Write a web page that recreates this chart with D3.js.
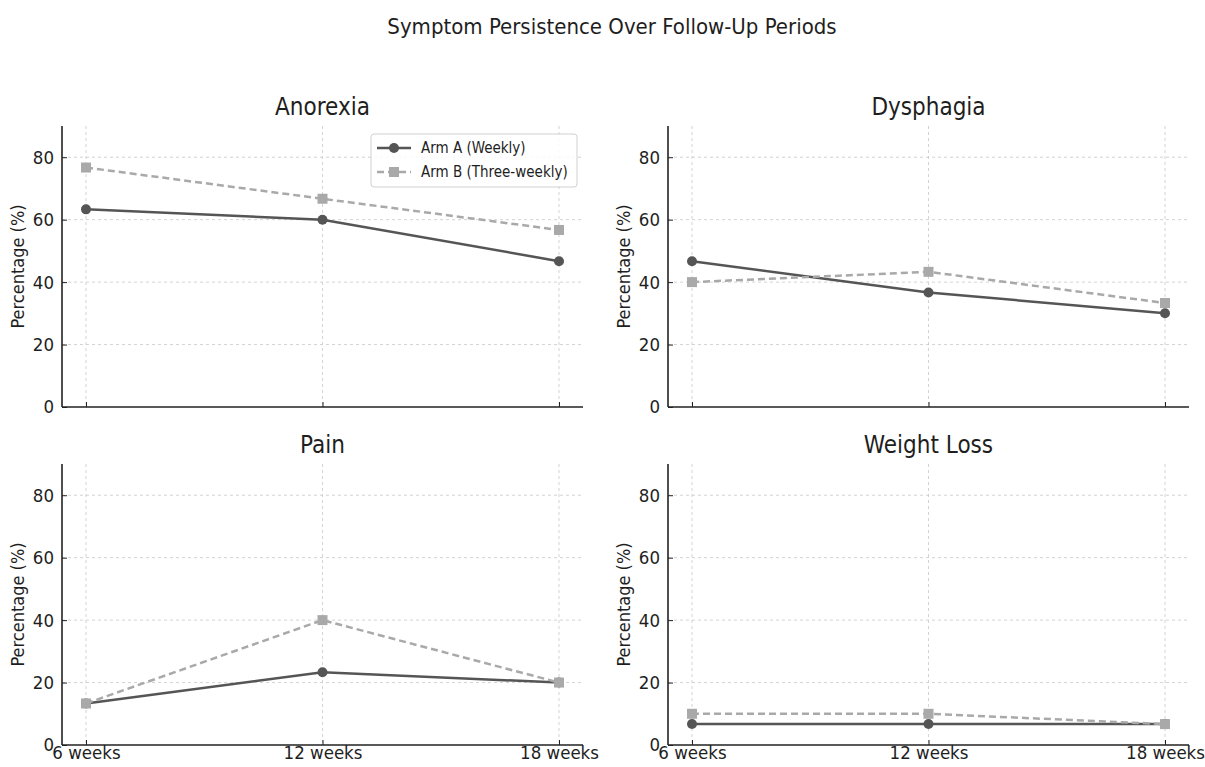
<!DOCTYPE html>
<html>
<head>
<script src="https://d3js.org/d3.v7.min.js"></script>
<style>
  body { margin: 0; background: #fff; }
  text { font-family: "DejaVu Sans Condensed", "DejaVu Sans", sans-serif; fill: #1e1e1e; }
  .grid line { stroke: #c8c8c8; stroke-dasharray: 3,3; stroke-width: 0.8; }
</style>
</head>
<body>
<svg width="1205" height="767"></svg>
<script>
const periods = ["6 weeks", "12 weeks", "18 weeks"];
const symptoms = ["Anorexia", "Dysphagia", "Pain", "Weight Loss"];
const armA = [[63.3, 60.0, 46.7], [46.7, 36.7, 30.0], [13.3, 23.3, 20.0], [6.7, 6.7, 6.7]];
const armB = [[76.7, 66.7, 56.7], [40.0, 43.3, 33.3], [13.3, 40.0, 20.0], [10.0, 10.0, 6.7]];
const yTicks = [0, 20, 40, 60, 80];

const svg = d3.select("svg");
const W = 521, H = 281;
const lefts = [62, 668], tops = [126, 464];

svg.append("text")
  .attr("x", 612).attr("y", 34)
  .attr("text-anchor", "middle")
  .style("font-size", "22px")
  .text("Symptom Persistence Over Follow-Up Periods");

const x = d3.scalePoint().domain(periods).range([24, W - 24]);
const y = d3.scaleLinear().domain([0, 90]).range([H, 0]);

const series = [
  { name: "Arm A (Weekly)", data: armA, color: "#555555", dash: null, shape: "circle" },
  { name: "Arm B (Three-weekly)", data: armB, color: "#a9a9a9", dash: "7,4", shape: "square" }
];

symptoms.forEach((s, i) => {
  const g = svg.append("g")
    .attr("transform", `translate(${lefts[i % 2]},${tops[Math.floor(i / 2)]})`);

  // grid
  const grid = g.append("g").attr("class", "grid");
  grid.selectAll(".gy").data(yTicks.slice(1)).enter().append("line")
    .attr("x1", 0).attr("x2", W).attr("y1", d => y(d)).attr("y2", d => y(d));
  grid.selectAll(".gx").data(periods).enter().append("line")
    .attr("x1", d => x(d)).attr("x2", d => x(d)).attr("y1", 0).attr("y2", H);

  g.append("text")
    .attr("x", W / 2).attr("y", -11)
    .attr("text-anchor", "middle")
    .style("font-size", "24px")
    .text(s);

  g.append("text")
    .attr("transform", `translate(-38,${H / 2}) rotate(-90)`)
    .attr("text-anchor", "middle")
    .style("font-size", "18px")
    .text("Percentage (%)");

  const ya = g.append("g").call(d3.axisLeft(y).tickValues(yTicks).tickSize(-5).tickPadding(8));
  ya.select(".domain").attr("stroke", "#222").attr("stroke-width", 1.6).attr("d", `M0,0V${H}`);
  ya.selectAll(".tick line").attr("stroke", "#222");
  ya.selectAll(".tick text").style("font-size", "18.5px").attr("fill", "#1e1e1e");

  const xa = g.append("g").attr("transform", `translate(0,${H})`)
    .call(d3.axisBottom(x).tickSize(-5).tickPadding(4));
  xa.select(".domain").attr("stroke", "#222").attr("stroke-width", 1.6).attr("d", `M0,0H${W}`);
  xa.selectAll(".tick line").attr("stroke", "#222");
  xa.selectAll(".tick text").style("font-size", "18.5px").attr("fill", "#1e1e1e")
    .attr("dy", "0.55em")
    .style("display", i >= 2 ? null : "none");

  const line = d3.line().x((d, j) => x(periods[j])).y(d => y(d));

  series.forEach(sr => {
    const vals = sr.data[i];
    g.append("path").datum(vals)
      .attr("d", line)
      .attr("fill", "none")
      .attr("stroke", sr.color)
      .attr("stroke-width", 2.5)
      .attr("stroke-dasharray", sr.dash);
    if (sr.shape === "circle") {
      g.selectAll(null).data(vals).enter().append("circle")
        .attr("cx", (d, j) => x(periods[j])).attr("cy", d => y(d))
        .attr("r", 5).attr("fill", sr.color);
    } else {
      g.selectAll(null).data(vals).enter().append("rect")
        .attr("x", (d, j) => x(periods[j]) - 5).attr("y", d => y(d) - 5)
        .attr("width", 10).attr("height", 10).attr("fill", sr.color);
    }
  });

  if (i === 0) {
    const lg = g.append("g").attr("transform", `translate(${371 - 62},${134 - 126})`);
    lg.append("rect").attr("width", 206).attr("height", 53).attr("rx", 3)
      .attr("fill", "#fff").attr("fill-opacity", 0.85)
      .attr("stroke", "#d0d0d0");
    series.forEach((sr, k) => {
      const ly = 14 + k * 24;
      lg.append("line").attr("x1", 6).attr("x2", 40).attr("y1", ly).attr("y2", ly)
        .attr("stroke", sr.color).attr("stroke-width", 2.5).attr("stroke-dasharray", sr.dash);
      if (sr.shape === "circle") {
        lg.append("circle").attr("cx", 23).attr("cy", ly).attr("r", 5).attr("fill", sr.color);
      } else {
        lg.append("rect").attr("x", 18).attr("y", ly - 5).attr("width", 10).attr("height", 10).attr("fill", sr.color);
      }
      lg.append("text").attr("x", 50).attr("y", ly).attr("dy", "0.35em")
        .style("font-size", "15px").text(sr.name);
    });
  }
});
</script>
</body>
</html>
